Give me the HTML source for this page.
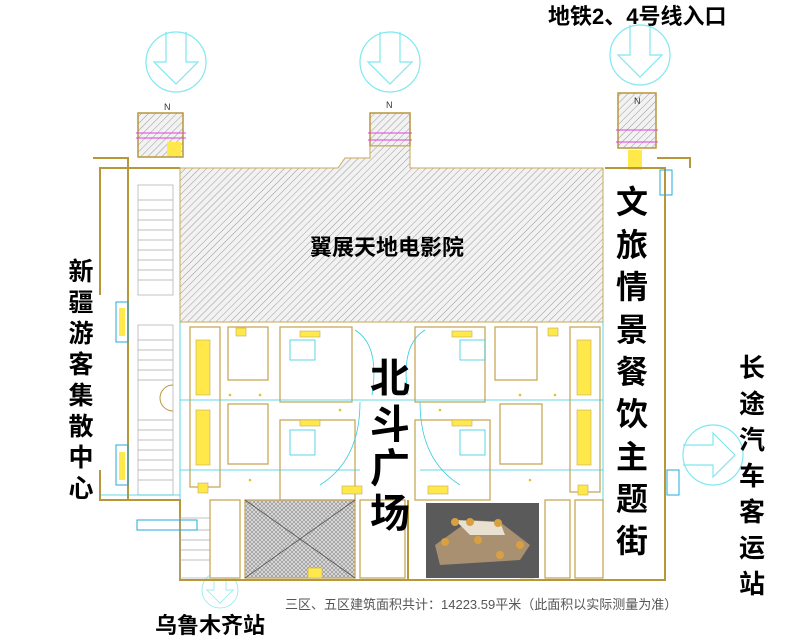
<!DOCTYPE html>
<html><head><meta charset="utf-8"><style>
html,body{margin:0;padding:0;background:#fff;width:800px;height:640px;overflow:hidden}
svg{display:block}
.t{font-family:"Liberation Sans","Noto Sans CJK SC",sans-serif;font-weight:bold;fill:#000}
</style></head><body>
<svg width="800" height="640" viewBox="0 0 800 640" xmlns="http://www.w3.org/2000/svg">
<defs>
<pattern id="h" width="5" height="5" patternUnits="userSpaceOnUse" patternTransform="rotate(45)">
<rect width="5" height="5" fill="#f2f2f2"/><line x1="0" y1="0" x2="0" y2="5" stroke="#999" stroke-width="1"/></pattern>
<pattern id="x" width="4" height="4" patternUnits="userSpaceOnUse">
<rect width="4" height="4" fill="#ddd"/><path d="M0 0L4 4M4 0L0 4" stroke="#888" stroke-width="0.6"/></pattern>
<g id="arr"><circle r="30" fill="none" stroke="#7fe8f0" stroke-width="1.2"/>
<path d="M-10 -30 V0 H-22 L0 22 L22 0 H10 V-30" fill="none" stroke="#7fe8f0" stroke-width="1.2"/></g>
</defs>
<use href="#arr" x="176" y="62"/><use href="#arr" x="390" y="62"/><use href="#arr" x="640" y="55"/>
<g transform="translate(713,455) rotate(-90)"><use href="#arr"/></g>
<g transform="translate(220,590) scale(0.6)"><use href="#arr"/></g>
<g stroke="#b8963a" stroke-width="1.5">
<rect x="138" y="113" width="45" height="44" fill="url(#h)"/>
<rect x="370" y="113" width="40" height="33" fill="url(#h)"/>
<rect x="618" y="93" width="38" height="55" fill="url(#h)"/>
</g>
<g stroke="#e040e0" stroke-width="1" fill="none">
<line x1="136" y1="133" x2="186" y2="133"/><line x1="136" y1="138" x2="186" y2="138"/>
<line x1="368" y1="133" x2="412" y2="133"/><line x1="368" y1="140" x2="412" y2="140"/>
<line x1="616" y1="130" x2="658" y2="130"/><line x1="616" y1="142" x2="658" y2="142"/>
</g>
<rect x="167" y="142" width="14" height="14" fill="#ffe84a"/>
<rect x="628" y="150" width="14" height="20" fill="#ffe84a"/>
<g font-family="Liberation Sans" font-size="9" fill="#333"><text x="164" y="110">N</text><text x="386" y="108">N</text><text x="634" y="104">N</text></g>
<g fill="none" stroke="#b8963a" stroke-width="2">
<path d="M128 168 H100 V295 M100 470 V500 H180 V580 H408 V500 M408 580 H665 V168 H605"/>
<path d="M93 158 H128 V168"/>
<path d="M657 158 H690 V168"/>
<path d="M128 168 H180 M128 168 V500"/>
</g>
<path d="M180 168 H338 L345 158 H370 V146 H410 V168 H603 V322 H180 Z" fill="url(#h)" stroke="#c9a95a" stroke-width="1"/>
<g fill="none" stroke="#aaa" stroke-width="0.7">
<rect x="138" y="185" width="35" height="110"/><rect x="138" y="325" width="35" height="170"/>
<path d="M138 200 H173 M138 210 H173 M138 220 H173 M138 230 H173 M138 240 H173 M138 250 H173 M138 260 H173 M138 270 H173 M138 280 H173"/>
<path d="M138 340 H173 M138 350 H173 M138 360 H173 M138 370 H173 M138 380 H173 M138 420 H173 M138 430 H173 M138 440 H173 M138 450 H173 M138 460 H173 M138 470 H173 M138 480 H173"/>
<rect x="180" y="518" width="30" height="60"/><path d="M180 530H210M180 540H210M180 550H210M180 560H210"/>
</g>
<path d="M173 385 A13 13 0 0 0 173 411" fill="none" stroke="#b8963a"/>
<g fill="none" stroke="#2ad" stroke-width="1">
<rect x="116" y="302" width="12" height="40"/><rect x="116" y="445" width="12" height="40"/>
<rect x="660" y="170" width="12" height="25"/><rect x="667" y="470" width="12" height="25"/>
<rect x="137" y="520" width="60" height="10"/>
</g>
<rect x="119" y="308" width="6" height="28" fill="#ffe84a"/><rect x="119" y="452" width="6" height="28" fill="#ffe84a"/>
<g fill="#fff" stroke="#c9a95a" stroke-width="1.3">
<rect x="228" y="327" width="40" height="53"/><rect x="280" y="327" width="72" height="75"/>
<rect x="228" y="404" width="40" height="60"/><rect x="280" y="420" width="75" height="80"/>
<rect x="415" y="327" width="70" height="75"/><rect x="495" y="327" width="42" height="53"/>
<rect x="415" y="420" width="75" height="80"/><rect x="500" y="404" width="42" height="60"/>
<rect x="190" y="327" width="30" height="160"/><rect x="570" y="327" width="30" height="165"/>
<rect x="245" y="500" width="110" height="78" fill="url(#x)"/>
<rect x="210" y="500" width="30" height="78"/><rect x="360" y="500" width="45" height="78"/>
<rect x="545" y="500" width="25" height="78"/><rect x="575" y="500" width="28" height="78"/>
</g>
<path d="M245 500 L355 578 M355 500 L245 578" stroke="#555" stroke-width="0.8"/>
<g fill="none" stroke="#3cd" stroke-width="0.8">
<path d="M180 322 V500 M603 322 V500 M180 400 H603 M180 470 H360 M420 470 H603 M100 495 H180"/>
<path d="M360 402 Q360 460 320 485 M420 402 Q420 460 460 485"/>
<path d="M355 330 Q380 345 372 395 M425 330 Q400 345 408 395"/>
<rect x="290" y="340" width="25" height="20"/><rect x="460" y="340" width="25" height="20"/>
<rect x="290" y="430" width="25" height="25"/><rect x="460" y="430" width="25" height="25"/>
</g>
<g fill="#ffe84a" stroke="#c9a95a" stroke-width="0.6">
<rect x="196" y="340" width="14" height="55"/><rect x="196" y="410" width="14" height="55"/>
<rect x="577" y="340" width="14" height="55"/><rect x="577" y="410" width="14" height="55"/>
<rect x="300" y="331" width="20" height="6"/><rect x="452" y="331" width="20" height="6"/>
<rect x="300" y="420" width="20" height="6"/><rect x="452" y="420" width="20" height="6"/>
<rect x="342" y="486" width="20" height="8"/><rect x="428" y="486" width="20" height="8"/>
<rect x="236" y="328" width="10" height="8"/><rect x="548" y="328" width="10" height="8"/>
<rect x="198" y="483" width="10" height="10"/><rect x="578" y="485" width="10" height="10"/>
<rect x="308" y="568" width="14" height="10"/><rect x="520" y="568" width="14" height="10"/>
</g>
<g fill="#e0c030">
<circle cx="230" cy="395" r="1.3"/><circle cx="260" cy="395" r="1.3"/><circle cx="340" cy="410" r="1.3"/><circle cx="440" cy="410" r="1.3"/><circle cx="520" cy="395" r="1.3"/><circle cx="555" cy="395" r="1.3"/><circle cx="250" cy="480" r="1.3"/><circle cx="530" cy="480" r="1.3"/>
</g>
<rect x="426" y="503" width="113" height="75" fill="#5a5a5a"/>
<path d="M435 545 L470 520 L500 522 L530 545 L520 560 L440 565 Z" fill="#a89070"/>
<path d="M455 520 L500 522 L505 535 L470 535 Z" fill="#e8e0d0"/>
<g fill="#d8a040"><circle cx="455" cy="522" r="4"/><circle cx="470" cy="522" r="4"/><circle cx="498" cy="523" r="4"/><circle cx="445" cy="542" r="4"/><circle cx="478" cy="540" r="4"/><circle cx="520" cy="545" r="4"/><circle cx="500" cy="555" r="4"/></g>
<text class="t" x="548" y="24" font-size="22">地铁2、4号线入口</text>
<text class="t" x="387" y="255" font-size="22" text-anchor="middle">翼展天地电影院</text>
<g class="t" font-size="25" text-anchor="middle">
<text x="81" y="280">新</text><text x="81" y="311">疆</text><text x="81" y="342">游</text><text x="81" y="373">客</text><text x="81" y="404">集</text><text x="81" y="435">散</text><text x="81" y="466">中</text><text x="81" y="497">心</text>
</g>
<g class="t" font-size="32" text-anchor="middle">
<text x="632" y="213">文</text><text x="632" y="256">旅</text><text x="632" y="298">情</text><text x="632" y="341">景</text><text x="632" y="383">餐</text><text x="632" y="425">饮</text><text x="632" y="468">主</text><text x="632" y="510">题</text><text x="632" y="552">街</text>
</g>
<g class="t" font-size="26" text-anchor="middle">
<text x="752" y="377">长</text><text x="752" y="413">途</text><text x="752" y="449">汽</text><text x="752" y="485">车</text><text x="752" y="521">客</text><text x="752" y="557">运</text><text x="752" y="593">站</text>
</g>
<g class="t" font-size="40" text-anchor="middle">
<text x="390" y="392">北</text><text x="390" y="438">斗</text><text x="390" y="482">广</text><text x="390" y="527">场</text>
</g>
<text class="t" x="155" y="633" font-size="22">乌鲁木齐站</text>
<text x="285" y="609" font-family="Liberation Sans,Noto Sans CJK SC,sans-serif" font-size="13" fill="#555">三区、五区建筑面积共计：14223.59平米（此面积以实际测量为准）</text>
</svg>
</body></html>
